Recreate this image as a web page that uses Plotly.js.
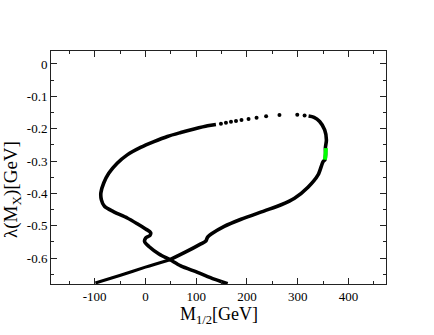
<!DOCTYPE html>
<html>
<head>
<meta charset="utf-8">
<script src="https://cdn.plot.ly/plotly-3.0.1.min.js"></script>
<style>html,body{margin:0;padding:0;background:#fff;}#chart{width:434px;height:335px;}</style>
</head>
<body>
<div id="chart"></div>
<script>
// Lower-left tail: start of the curve up to the crossing
var tailX = [-98.5, -49.1, 0, 48.5];
var tailY = [-0.677, -0.653, -0.628, -0.605];
// Lower-right branch: crossing up to the top-right turn
var rightX = [48.5, 79.5, 109.2, 119.1, 122.5, 130.4, 155.3, 188.4, 234.5, 267.5, 293.8, 320.3, 340.1, 350.0, 353.8, 355.0, 354.6, 356.6, 353.2, 343.3, 332.2, 321.5];
var rightY = [-0.605, -0.581, -0.556, -0.547, -0.535, -0.525, -0.502, -0.480, -0.454, -0.435, -0.415, -0.381, -0.343, -0.302, -0.296, -0.278, -0.259, -0.235, -0.204, -0.178, -0.165, -0.161];
// Green highlighted segment
var greenX = [353.8, 355.0, 355.8];
var greenY = [-0.296, -0.278, -0.260];
// Sparse points along the top
var dotX = [313.6, 299.2, 264.1, 237.8, 219.0, 203.2, 189.3, 178.5, 168.6, 158.7, 148.8];
var dotY = [-0.159, -0.157, -0.158, -0.162, -0.166, -0.170, -0.173, -0.176, -0.179, -0.182, -0.185];
// Upper arc, left loop and descending branch to the bottom
var arcX = [138.9, 122.5, 96.0, 69.6, 43.3, 16.8, -9.5, -35.8, -55.6, -72.2, -82.1, -87.7, -86.7, -80.7, -62.3, -35.8, -16.0, 0.4, 10.3, 8.9, 0.4, -1.6, 6.9, 26.7, 48.5, 69.6, 102.7, 135.5, 162.0];
var arcY = [-0.187, -0.191, -0.201, -0.212, -0.224, -0.240, -0.258, -0.281, -0.307, -0.338, -0.368, -0.398, -0.420, -0.440, -0.457, -0.476, -0.494, -0.510, -0.521, -0.530, -0.538, -0.549, -0.564, -0.587, -0.605, -0.624, -0.644, -0.665, -0.679];
// Ticks
var xTickVals = [-100, 0, 100, 200, 300, 400];
var xTickText = ["-100", "0", "100", "200", "300", "400"];
var yTickVals = [0, -0.1, -0.2, -0.3, -0.4, -0.5, -0.6];
var yTickText = ["0", "-0.1", "-0.2", "-0.3", "-0.4", "-0.5", "-0.6"];

var serif = "Liberation Serif, Times New Roman, serif";
var traces = [
  {x: tailX, y: tailY, mode: 'lines', line: {color: '#000', width: 3, shape: 'spline', smoothing: 0.8}, hoverinfo: 'skip'},
  {x: rightX, y: rightY, mode: 'lines', line: {color: '#000', width: 3.6, shape: 'spline', smoothing: 0.8}, hoverinfo: 'skip'},
  {x: arcX, y: arcY, mode: 'lines', line: {color: '#000', width: 3.6, shape: 'spline', smoothing: 0.8}, hoverinfo: 'skip'},
  {x: dotX, y: dotY, mode: 'markers', marker: {color: '#000', size: 4}, hoverinfo: 'skip'},
  {x: greenX, y: greenY, mode: 'lines', line: {color: '#00ff00', width: 4}, hoverinfo: 'skip'}
];
var axBase = {
  showgrid: false, zeroline: false, showline: true, linecolor: '#222', linewidth: 1,
  mirror: 'ticks', ticks: 'inside', ticklen: 6, tickcolor: '#222', tickwidth: 1,
  tickfont: {family: serif, size: 13, color: '#000'}, tickmode: 'array'
};
var layout = {
  width: 434, height: 335,
  margin: {l: 51, r: 48, t: 51, b: 51},
  paper_bgcolor: '#fff', plot_bgcolor: '#fff',
  showlegend: false,
  xaxis: Object.assign({}, axBase, {
    range: [-186, 474], tickvals: xTickVals, ticktext: xTickText,
    minor: {tickmode: 'linear', tick0: 0, dtick: 50, ticks: 'inside', ticklen: 3, tickcolor: '#222'}
  }),
  yaxis: Object.assign({}, axBase, {
    range: [-0.68, 0.04], tickvals: yTickVals, ticktext: yTickText,
    minor: {tickmode: 'linear', tick0: 0, dtick: 0.05, ticks: 'inside', ticklen: 3, tickcolor: '#222'}
  }),
  annotations: [
    {text: 'M<sub>1/2</sub>[GeV]', xref: 'paper', yref: 'paper', x: 0.5, y: (284 - 302) / 233,
     xanchor: 'center', yanchor: 'top', showarrow: false, font: {family: serif, size: 18, color: '#000'}},
    {text: 'λ(M<sub>X</sub>)[GeV]', xref: 'paper', yref: 'paper', x: (12 - 51) / 335, y: (284 - 190) / 233,
     xanchor: 'center', yanchor: 'middle', textangle: -90, showarrow: false, font: {family: serif, size: 19, color: '#000'}}
  ]
};
Plotly.newPlot('chart', traces, layout, {staticPlot: true, displayModeBar: false});
</script>
</body>
</html>
